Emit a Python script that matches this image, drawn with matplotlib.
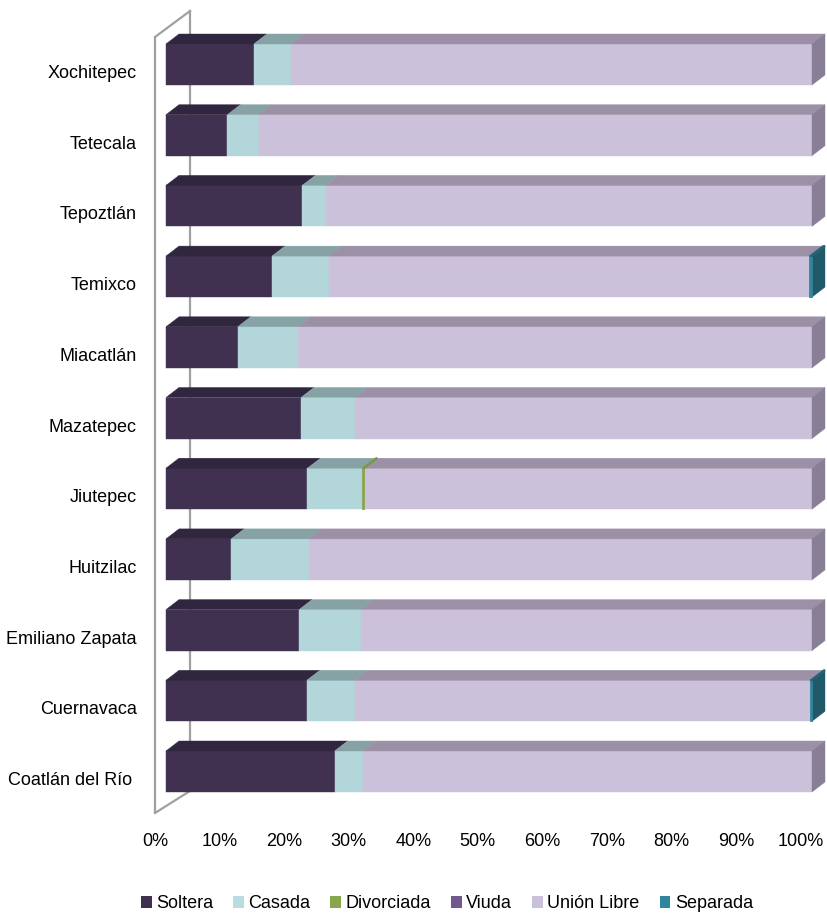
import matplotlib
matplotlib.use("Agg")
import matplotlib.pyplot as plt
from matplotlib import font_manager
from matplotlib.patches import Polygon, Patch
import numpy as np

# ---------------- data ----------------
municipios = ["Xochitepec", "Tetecala", "Tepoztlán", "Temixco", "Miacatlán",
              "Mazatepec", "Jiutepec", "Huitzilac", "Emiliano Zapata",
              "Cuernavaca", "Coatlán del Río "]
soltera     = [13.6,  9.5, 21.1, 16.4, 11.1, 20.9, 21.9, 10.1, 20.6, 21.8, 26.1]
casada      = [ 5.7,  4.9,  3.6,  8.8,  9.3,  8.4,  8.6, 12.0,  9.6,  7.5,  4.4]
divorciada  = [ 0.0,  0.0,  0.0,  0.0,  0.0,  0.0,  0.2,  0.0,  0.0,  0.0,  0.0]
viuda       = [ 0.0,  0.0,  0.0,  0.0,  0.0,  0.0,  0.0,  0.0,  0.0,  0.0,  0.0]
separada    = [ 0.0,  0.0,  0.0,  0.3,  0.0,  0.0,  0.0,  0.0,  0.0,  0.2,  0.0]
union_libre = [100 - s - c - d - v - p for s, c, d, v, p in
               zip(soltera, casada, divorciada, viuda, separada)]
series_names = ["Soltera", "Casada", "Divorciada", "Viuda", "Unión Libre", "Separada"]
xticks = [0, 10, 20, 30, 40, 50, 60, 70, 80, 90, 100]

# ---------------- style ----------------
front = ["#403151", "#b3d6da", "#8aa64c", "#715990", "#ccc1da", "#31859c"]
top   = ["#30263f", "#86a2a5", "#7a9a40", "#54426b", "#9b90a6", "#24637a"]
side  = ["#2a2137", "#7a9497", "#5c6f32", "#4a3a5e", "#887e95", "#215968"]
legend_cols = ["#403151", "#b7dde1", "#8aa64c", "#715990", "#ccc1da", "#31859c"]

names = {f.name for f in font_manager.fontManager.ttflist}
fam = "Liberation Sans Narrow" if "Liberation Sans Narrow" in names else "Liberation Sans"
plt.rcParams['font.family'] = [fam, 'DejaVu Sans']
FS = 15 if fam == "Liberation Sans Narrow" else 13

W, H = 827, 914
fig = plt.figure(figsize=(W / 100, H / 100), dpi=100)
ax = fig.add_axes([0, 0, 1, 1])

# pixel geometry helpers (x: 0% at 166 px, 100% at 812 px; rows 70.7 px apart)
px_per_pct = 6.46
x0px, y0px, rowpx = 166.0, 64.5, 70.7
ax.set_xlim(-x0px / px_per_pct, (W - x0px) / px_per_pct)
ax.set_ylim((H - y0px) / rowpx, -y0px / rowpx)
ax.axis("off")

def dx_(px):
    return px / px_per_pct

def dy_(py):
    return py / rowpx

depth_x, depth_y = dx_(13), dy_(10)
half = dy_(20.5)

# wall (frame on the left)
wall_color = "#a0a0a0"
wx_front, wx_back = dx_(155 - x0px), dx_(190 - x0px)
wy_top_f, wy_top_b = dy_(37 - y0px), dy_(11 - y0px)
wy_bot_f, wy_bot_b = dy_(813 - y0px), dy_(791 - y0px)
ax.plot([wx_front, wx_front], [wy_top_f, wy_bot_f], color=wall_color, lw=1.6, zorder=1,
        solid_capstyle="butt")
ax.plot([wx_front, wx_back], [wy_top_f, wy_top_b], color=wall_color, lw=1.6, zorder=1)
ax.plot([wx_back, wx_back], [wy_top_b, wy_bot_b], color=wall_color, lw=1.6, zorder=1)
ax.plot([wx_front, wx_back], [wy_bot_f, wy_bot_b], color=wall_color, lw=1.6, zorder=1)

data = [soltera, casada, divorciada, viuda, union_libre, separada]
for i, name in enumerate(municipios):
    yc = i
    yt, yb = yc - half, yc + half
    left = 0.0
    last_k = max(k for k in range(6) if data[k][i] > 0)
    for k in range(6):
        v = data[k][i]
        if v <= 0:
            continue
        right = left + v
        lw = 1.3 if v < 0.5 else 0.3
        ax.add_patch(Polygon([(left, yb), (right, yb), (right, yt), (left, yt)],
                             closed=True, facecolor=front[k], edgecolor=front[k],
                             lw=lw, zorder=3 + (1 if v < 0.5 else 0)))
        ax.add_patch(Polygon([(left, yt), (right, yt), (right + depth_x, yt - depth_y),
                              (left + depth_x, yt - depth_y)],
                             closed=True, facecolor=top[k], edgecolor=top[k],
                             lw=lw, zorder=3 + (1 if v < 0.5 else 0)))
        if k == last_k:
            ax.add_patch(Polygon([(right, yt), (right, yb), (right + depth_x, yb - depth_y),
                                  (right + depth_x, yt - depth_y)],
                                 closed=True, facecolor=side[k], edgecolor=side[k],
                                 lw=0.3, zorder=3))
        left = right
    ax.text(dx_(137 - x0px), yc + dy_(9), name, ha="right", va="center", fontsize=FS,
            color="#000000")

# x tick labels
ty = dy_(841 - y0px)
for t in xticks:
    ax.text(t * (64.55 / 64.6) + dx_(155 - x0px), ty, f"{t}%", ha="center", va="center",
            fontsize=FS, color="#000000")

handles = [Patch(facecolor=c, edgecolor="none") for c in legend_cols]
fig.legend(handles, series_names, loc="center", bbox_to_anchor=(447 / W, 1 - 904 / H),
           ncol=6, frameon=False, fontsize=FS, handlelength=0.6, handleheight=0.6,
           handletextpad=0.25, columnspacing=1.1, borderpad=0)

fig.savefig("out.png", dpi=100)
